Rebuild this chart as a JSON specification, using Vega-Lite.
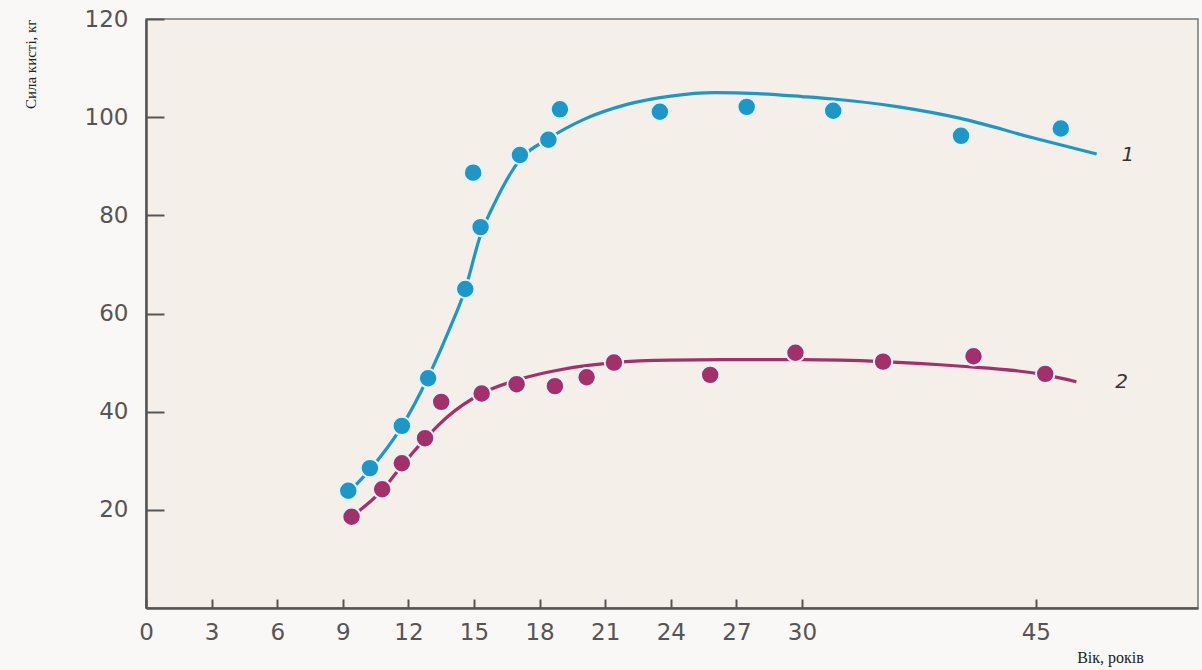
{
  "$schema": "https://vega.github.io/schema/vega-lite/v6.json",
  "width": 1052,
  "height": 589,
  "autosize": {"type": "none"},
  "padding": {"left": 146, "top": 19, "right": 4, "bottom": 62},
  "background": "#f9f8f6",
  "config": {
    "view": {"fill": "#f5efe9", "stroke": "#777", "strokeWidth": 1.5},
    "axis": {"grid": false, "domainColor": "#555", "domainWidth": 2.5, "tickColor": "#555", "tickWidth": 2, "labelColor": "#555", "labelFont": "DejaVu Sans", "labelFontSize": 23, "labelFlush": false}
  },
  "datasets": {
    "curves": [
      {"series": "1", "age": 9.2, "force": 23.3}, {"series": "1", "age": 10.3, "force": 28.5}, {"series": "1", "age": 11.7, "force": 37}, {"series": "1", "age": 12.9, "force": 47}, {"series": "1", "age": 13.8, "force": 56}, {"series": "1", "age": 14.6, "force": 65}, {"series": "1", "age": 15.3, "force": 76}, {"series": "1", "age": 16.0, "force": 83}, {"series": "1", "age": 17.1, "force": 91.3}, {"series": "1", "age": 18.4, "force": 95.6}, {"series": "1", "age": 20, "force": 99.5}, {"series": "1", "age": 22, "force": 102.6}, {"series": "1", "age": 24, "force": 104.3}, {"series": "1", "age": 26, "force": 105}, {"series": "1", "age": 28, "force": 104.8}, {"series": "1", "age": 30, "force": 104.2}, {"series": "1", "age": 32, "force": 103.7}, {"series": "1", "age": 36.2, "force": 102.1}, {"series": "1", "age": 40.1, "force": 99.8}, {"series": "1", "age": 44.8, "force": 95.8}, {"series": "1", "age": 48.9, "force": 92.5},
      {"series": "2", "age": 9.3, "force": 18.3}, {"series": "2", "age": 10.8, "force": 24}, {"series": "2", "age": 11.7, "force": 29}, {"series": "2", "age": 12.8, "force": 34.6}, {"series": "2", "age": 13.8, "force": 39}, {"series": "2", "age": 15.35, "force": 43.7}, {"series": "2", "age": 17, "force": 46.5}, {"series": "2", "age": 19, "force": 48.6}, {"series": "2", "age": 21.4, "force": 50}, {"series": "2", "age": 24, "force": 50.5}, {"series": "2", "age": 27, "force": 50.6}, {"series": "2", "age": 30, "force": 50.6}, {"series": "2", "age": 35.2, "force": 50.2}, {"series": "2", "age": 40, "force": 49.3}, {"series": "2", "age": 45.6, "force": 47.5}, {"series": "2", "age": 47.6, "force": 46.1}
    ],
    "points": [
      {"series": "1", "age": 9.25, "force": 23.9}, {"series": "1", "age": 10.24, "force": 28.5}, {"series": "1", "age": 11.7, "force": 37.1}, {"series": "1", "age": 12.9, "force": 46.8}, {"series": "1", "age": 14.6, "force": 65.0}, {"series": "1", "age": 15.3, "force": 77.6}, {"series": "1", "age": 14.96, "force": 88.7}, {"series": "1", "age": 17.1, "force": 92.3}, {"series": "1", "age": 18.4, "force": 95.4}, {"series": "1", "age": 18.93, "force": 101.6}, {"series": "1", "age": 23.5, "force": 101.1}, {"series": "1", "age": 27.47, "force": 102.1}, {"series": "1", "age": 32.0, "force": 101.3}, {"series": "1", "age": 40.2, "force": 96.2}, {"series": "1", "age": 46.6, "force": 97.7},
      {"series": "2", "age": 9.4, "force": 18.6}, {"series": "2", "age": 10.8, "force": 24.2}, {"series": "2", "age": 11.7, "force": 29.5}, {"series": "2", "age": 12.76, "force": 34.6}, {"series": "2", "age": 13.5, "force": 42.0}, {"series": "2", "age": 15.35, "force": 43.7}, {"series": "2", "age": 16.95, "force": 45.6}, {"series": "2", "age": 18.7, "force": 45.2}, {"series": "2", "age": 20.15, "force": 47.0}, {"series": "2", "age": 21.4, "force": 50.0}, {"series": "2", "age": 25.8, "force": 47.5}, {"series": "2", "age": 29.7, "force": 52.0}, {"series": "2", "age": 35.2, "force": 50.2}, {"series": "2", "age": 41.0, "force": 51.3}, {"series": "2", "age": 45.6, "force": 47.7}
    ],
    "labels": [
      {"series": "1", "age": 50.9, "force": 92.3, "label": "1"},
      {"series": "2", "age": 50.5, "force": 46.1, "label": "2"}
    ]
  },
  "encoding": {
    "x": {
      "field": "age", "type": "quantitative",
      "scale": {"domain": [0, 30, 55.4], "range": [0, 656, 1052], "nice": false, "zero": false},
      "axis": {"values": [0, 3, 6, 9, 12, 15, 18, 21, 24, 27, 30, 45], "tickSize": -9, "labelPadding": 22, "title": "Вік, років", "titleFont": "Liberation Serif", "titleFontSize": 16, "titleFontWeight": "normal", "titleColor": "#222", "titleX": 964, "titleY": 49, "titleAlign": "center", "titleBaseline": "middle"}
    },
    "y": {
      "field": "force", "type": "quantitative",
      "scale": {"domain": [0, 120], "nice": false},
      "axis": {"values": [20, 40, 60, 80, 100, 120], "tickSize": -18, "labelPadding": 36, "title": "Сила кисті, кг", "titleFont": "Liberation Serif", "titleFontSize": 15, "titleFontWeight": "normal", "titleColor": "#222", "titleAngle": -90, "titleX": -116, "titleY": 0, "titleAlign": "right", "titleBaseline": "middle"}
    },
    "color": {"field": "series", "type": "nominal", "scale": {"domain": ["1", "2"], "range": ["#1d96c8", "#a3306a"]}, "legend": null}
  },
  "layer": [
    {
      "data": {"name": "curves"},
      "mark": {"type": "line", "interpolate": "monotone", "strokeWidth": 3.2}
    },
    {
      "data": {"name": "points"},
      "mark": {"type": "circle", "size": 340, "opacity": 1, "stroke": "#e3f3f7", "strokeWidth": 2}
    },
    {
      "data": {"name": "labels"},
      "mark": {"type": "text", "font": "DejaVu Sans", "fontSize": 20, "fontStyle": "italic", "color": "#333", "align": "center", "baseline": "middle"},
      "encoding": {"text": {"field": "label"}, "color": {"value": "#333"}}
    }
  ]
}
